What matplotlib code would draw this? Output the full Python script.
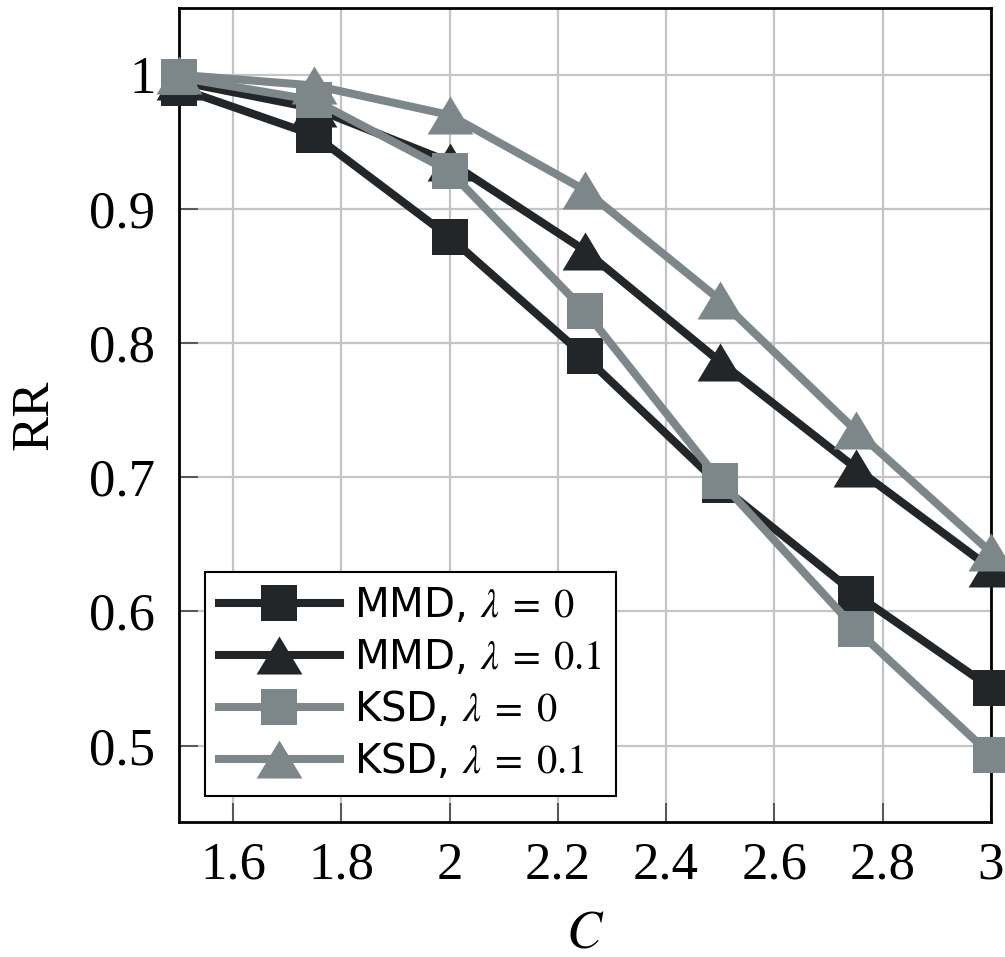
import matplotlib
matplotlib.use("Agg")
import matplotlib.pyplot as plt
from matplotlib.ticker import FixedLocator, FuncFormatter

C = [1.5, 1.75, 2.0, 2.25, 2.5, 2.75, 3.0]
mmd_l0 = [0.990, 0.955, 0.879, 0.790, 0.694, 0.613, 0.543]
mmd_l01 = [0.995, 0.975, 0.935, 0.869, 0.786, 0.707, 0.632]
ksd_l0 = [0.998, 0.981, 0.928, 0.824, 0.697, 0.587, 0.493]
ksd_l01 = [1.000, 0.992, 0.970, 0.914, 0.832, 0.735, 0.644]
labels = [r"MMD, $\lambda\;=\;0$", r"MMD, $\lambda\;=\;0.1$",
          r"KSD, $\lambda\;=\;0$", r"KSD, $\lambda\;=\;0.1$"]
xticks = [1.6, 1.8, 2.0, 2.2, 2.4, 2.6, 2.8, 3.0]
yticks = [0.5, 0.6, 0.7, 0.8, 0.9, 1.0]

plt.rcParams['mathtext.fontset'] = 'stix'

dark = "#232628"
gray = "#7d8789"
tri = [(0, 0.83), (-1, -0.83), (1, -0.83)]

fig = plt.figure(figsize=(10.05, 9.57), dpi=100)
ax = fig.add_axes([0.178, 0.141, 0.808, 0.851])

series = [(mmd_l0, dark, 's', 26), (mmd_l01, dark, tri, 33),
          (ksd_l0, gray, 's', 26), (ksd_l01, gray, tri, 33)]
for (vals, col, mk, ms), lab in zip(series, labels):
    ax.plot(C, vals, color=col, lw=5.8, marker=mk, markersize=ms,
            markeredgewidth=0, label=lab, clip_on=False, zorder=3)

ax.set_xlim(1.5, 3.0)
ax.set_ylim(0.443, 1.05)
ax.xaxis.set_major_locator(FixedLocator(xticks))
ax.yaxis.set_major_locator(FixedLocator(yticks))
ax.xaxis.set_major_formatter(FuncFormatter(lambda v, p: f"{v:g}"))
ax.yaxis.set_major_formatter(FuncFormatter(lambda v, p: f"{v:g}"))
ax.grid(True, color="#c4c4c4", lw=1.6, zorder=0)
ax.set_axisbelow(True)
ax.tick_params(axis='x', direction='in', length=14, width=1.2, color="#444444",
               labelsize=38, pad=14, top=False)
ax.tick_params(axis='y', direction='in', length=14, width=1.2, color="#444444",
               labelsize=38, pad=17, right=False)
for lab in ax.get_xticklabels() + ax.get_yticklabels():
    lab.set_fontfamily("Liberation Serif")
for s in ax.spines.values():
    s.set_linewidth(2.0)
    s.set_color("black")
ax.set_xlabel("$C$", fontsize=38, labelpad=12)
ax.set_ylabel("RR", fontsize=38, family="Liberation Serif", labelpad=22)

leg = ax.legend(loc='lower left', bbox_to_anchor=(0.032, 0.032),
                prop={'family': 'DejaVu Sans', 'size': 29},
                handlelength=3.0, handletextpad=0.35, labelspacing=0.3,
                borderpad=0.35, borderaxespad=0, fancybox=False,
                framealpha=1, edgecolor="black")
leg.get_frame().set_linewidth(1.5)
leg.set_zorder(5)

fig.savefig("out.png", dpi=100)
